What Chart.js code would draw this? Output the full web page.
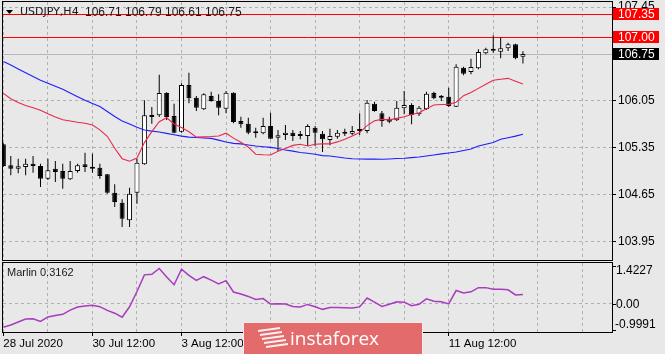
<!DOCTYPE html>
<html>
<head>
<meta charset="utf-8">
<title>USDJPY H4</title>
<script src="https://cdn.jsdelivr.net/npm/chart.js@4.4.1/dist/chart.umd.min.js"></script>
<style>
  html, body { margin: 0; padding: 0; }
  body { width: 665px; height: 354px; background: #e8e8e8; position: relative; overflow: hidden; }
  canvas { position: absolute; left: 0; }
  #priceChart { top: 0; }
  #marlinChart { top: 258px; }
</style>
</head>
<body>
<canvas id="priceChart" width="665" height="262"></canvas>
<canvas id="marlinChart" width="665" height="96"></canvas>
<script>
// H4 bars, 28 Jul - 12 Aug 2020
const opens = [105.405,105.092,105.041,105.067,105.116,105.081,104.892,105.041,105.007,104.883,
  105.007,105.107,105.067,105.056,104.958,104.684,104.535,104.272,104.684,105.107,
  105.837,105.837,106.169,105.826,105.593,106.288,106.099,105.926,106.124,106.05,
  105.935,106.174,105.752,105.712,105.578,105.569,105.677,105.503,105.543,105.578,
  105.539,105.528,105.652,105.563,105.469,105.518,105.563,105.563,105.603,105.603,
  106.01,105.867,105.786,105.762,105.941,105.99,105.852,105.926,106.169,106.11,
  106.114,105.965,106.546,106.482,106.537,106.761,106.805,106.785,106.835,106.895,106.71];
const highs = [105.42,105.23,105.19,105.19,105.23,105.116,105.19,105.156,105.116,105.156,
  105.116,105.28,105.265,105.116,104.962,104.809,104.585,104.758,105.19,106.06,
  105.961,106.442,106.18,106.01,106.314,106.472,106.124,106.165,106.189,106.15,
  106.199,106.18,105.816,105.801,105.652,105.801,105.876,105.618,105.692,105.618,
  105.603,105.703,105.677,105.603,105.637,105.618,105.637,105.677,105.867,106.065,
  106.04,105.901,105.816,106.05,106.199,106.016,105.976,106.189,106.189,106.139,
  106.248,106.597,106.561,106.68,106.82,106.844,107.029,106.993,106.919,106.904,106.79];
const lows = [105.07,104.943,104.973,104.943,104.982,104.769,104.873,104.843,104.743,104.873,
  104.982,104.992,104.982,104.892,104.669,104.471,104.173,104.173,104.52,105.10,
  105.712,105.812,105.767,105.57,105.578,106.016,105.901,105.916,106.04,105.837,
  105.867,105.718,105.652,105.554,105.503,105.554,105.479,105.305,105.469,105.454,
  105.479,105.38,105.38,105.29,105.39,105.488,105.528,105.543,105.543,105.569,
  105.891,105.667,105.718,105.752,105.852,105.703,105.826,105.916,106.075,106.05,
  105.961,105.96,106.433,106.448,106.522,106.746,106.77,106.686,106.795,106.671,106.61];
const closes = [105.081,105.041,105.077,105.116,105.081,104.892,105.017,104.992,104.892,105.007,
  105.092,105.067,105.041,104.932,104.684,104.545,104.296,104.669,105.131,105.837,
  105.812,106.169,105.812,105.578,106.288,106.09,105.95,106.15,106.05,105.95,
  106.174,105.737,105.703,105.578,105.569,105.677,105.488,105.539,105.578,105.528,
  105.528,105.677,105.578,105.479,105.528,105.578,105.59,105.603,105.633,106.025,
  105.901,105.752,105.742,105.95,105.99,105.841,105.95,106.159,106.09,106.099,
  105.976,106.561,106.457,106.557,106.78,106.82,106.80,106.835,106.895,106.686,106.75];

// moving averages (red = fast, blue = slow)
const maFast = [106.163,106.084,106.028,105.983,105.95,105.913,105.858,105.812,105.77,105.752,
  105.733,105.719,105.692,105.619,105.523,105.345,105.19,105.152,105.2,105.43,
  105.593,105.74,105.8,105.707,105.655,105.591,105.511,105.515,105.52,105.529,
  105.57,105.496,105.435,105.362,105.256,105.248,105.245,105.302,105.341,105.388,
  105.405,105.38,105.405,105.41,105.41,105.44,105.479,105.528,105.579,105.683,
  105.755,105.776,105.768,105.791,105.816,105.849,105.874,105.935,105.99,105.998,
  105.999,106.031,106.129,106.175,106.238,106.3,106.358,106.373,106.387,106.345,106.303];
const maSlow = [106.639,106.585,106.527,106.47,106.415,106.36,106.315,106.269,106.223,106.169,
  106.114,106.062,106.014,105.967,105.894,105.819,105.752,105.706,105.66,105.618,
  105.6,105.588,105.567,105.546,105.526,105.511,105.505,105.499,105.493,105.466,
  105.439,105.418,105.411,105.394,105.379,105.368,105.359,105.341,105.32,105.302,
  105.281,105.272,105.257,105.236,105.23,105.216,105.201,105.189,105.186,105.184,
  105.183,105.181,105.186,105.192,105.196,105.205,105.214,105.229,105.245,105.262,
  105.275,105.289,105.312,105.335,105.378,105.405,105.43,105.479,105.502,105.526,105.554];

// Marlin oscillator
const marlin = [-0.833,-0.754,-0.65,-0.546,-0.536,-0.626,-0.47,-0.418,-0.38,-0.231,
  -0.121,-0.09,-0.058,-0.11,-0.242,-0.339,-0.48,-0.114,0.423,1.007,
  1.028,1.232,0.931,0.661,1.205,0.987,0.814,0.942,0.821,0.689,
  0.803,0.405,0.333,0.25,0.143,0.174,-0.02,-0.006,-0.02,-0.103,
  -0.124,-0.031,-0.114,-0.204,-0.138,-0.141,-0.148,-0.155,-0.117,0.194,
  0.049,-0.1,-0.027,0.06,0.049,-0.076,-0.027,0.167,0.084,0.063,
  -0.013,0.457,0.371,0.412,0.558,0.558,0.502,0.499,0.482,0.302,0.3162];

const timeLabels = ['28 Jul 2020', '30 Jul 12:00', '3 Aug 12:00', '5 Aug 12:00', '7 Aug 12:00', '11 Aug 12:00'];
const timeLabelBars = [0, 12, 24, 36, 48, 60];
const priceTicks = [103.95, 104.65, 105.35, 106.05, 106.75, 107.45];
const redLevels = [107.35, 107.00];
const marlinTicks = [1.4227, 0.00, -0.9991];

const FONT = '"Liberation Sans", Arial, sans-serif';
const GRID = '#b0b0b0';
const last = closes.length - 1;
Chart.defaults.font.family = FONT;

const xy = arr => arr.map((v, i) => ({ x: i, y: v }));
const gridSteps = [];
for (let i = 0; i <= 78; i += 6) gridSteps.push(i);

function hLine(ctx, x1, x2, y) {
  ctx.beginPath(); ctx.moveTo(x1, y); ctx.lineTo(x2, y); ctx.stroke();
}

// levels, boxes, frame and title for the price panel
const priceDecor = {
  id: 'priceDecor',
  beforeDatasetsDraw(chart) {
    const { ctx, chartArea: a, scales: { y } } = chart;
    ctx.save();
    ctx.lineWidth = 1;
    ctx.strokeStyle = '#b8b8b8';
    hLine(ctx, a.left, a.right, Math.round(y.getPixelForValue(closes[last])) + 0.5);
    ctx.strokeStyle = '#ff0000';
    redLevels.forEach(v => hLine(ctx, a.left, a.right, Math.round(y.getPixelForValue(v)) + 0.5));
    ctx.restore();
  },
  afterDraw(chart) {
    const { ctx, chartArea: a, scales: { y } } = chart;
    ctx.save();
    ctx.strokeStyle = '#000';
    ctx.lineWidth = 1;
    ctx.strokeRect(a.left - 0.5, a.top - 0.5, a.right - a.left + 1, a.bottom - a.top + 1);

    // price boxes on the right axis
    ctx.font = '12px ' + FONT;
    ctx.textBaseline = 'middle';
    const box = (v, bg) => {
      const py = Math.round(y.getPixelForValue(v));
      ctx.fillStyle = bg;
      ctx.fillRect(a.right + 1, py - 6, 46, 12);
      ctx.fillStyle = '#fff';
      ctx.fillText(v.toFixed(2), a.right + 6, py + 0.5);
    };
    redLevels.forEach(v => box(v, '#ff0000'));
    box(closes[last], '#000');

    // title
    ctx.fillStyle = '#000';
    ctx.beginPath();
    ctx.moveTo(6, 10); ctx.lineTo(13, 10); ctx.lineTo(9.5, 14); ctx.closePath(); ctx.fill();
    ctx.fillStyle = '#1a1a1a';
    ctx.font = '11px "DejaVu Sans", sans-serif';
    ctx.fillText('USDJPY,H4', 20, 12.5);
    ctx.font = '12px ' + FONT;
    [opens[last], highs[last], lows[last], closes[last]].forEach((v, k) => {
      ctx.fillText(v.toFixed(2), 85 + k * 40, 12.5);
    });
    ctx.restore();
  }
};

new Chart(document.getElementById('priceChart'), {
  type: 'bar',
  data: {
    datasets: [
      { type: 'line', data: xy(maFast), borderColor: '#e8284c', borderWidth: 1.1, pointRadius: 0, order: 0 },
      { type: 'line', data: xy(maSlow), borderColor: '#1e1eff', borderWidth: 1.1, pointRadius: 0, order: 0 },
      {
        // candle bodies
        data: opens.map((o, i) => ({ x: i, y: [o, closes[i]] })),
        backgroundColor: opens.map((o, i) => closes[i] >= o ? '#ffffff' : '#000000'),
        borderColor: '#000', borderWidth: 1, borderSkipped: false,
        barThickness: 5, minBarLength: 2, inflateAmount: 0, grouped: false, order: 1
      },
      {
        // wicks
        data: lows.map((l, i) => ({ x: i, y: [l, highs[i]] })),
        backgroundColor: '#000', borderWidth: 0,
        barThickness: 1, inflateAmount: 0, grouped: false, order: 2
      }
    ]
  },
  options: {
    responsive: false,
    animation: false,
    events: [],
    layout: { padding: { left: 3, top: 2, right: 0, bottom: 0 } },
    plugins: { legend: { display: false }, tooltip: { enabled: false } },
    scales: {
      x: {
        type: 'linear', min: -0.05, max: 82, offset: false,
        afterBuildTicks: s => { s.ticks = gridSteps.map(v => ({ value: v })); },
        afterFit: s => { s.height = 2; s.paddingLeft = 0; s.paddingRight = 0; },
        ticks: { display: false },
        grid: { color: GRID, borderDash: [3, 3], drawTicks: false, offset: false },
        border: { display: false, dash: [3, 3] }
      },
      y: {
        position: 'right', min: 103.68, max: 107.525,
        afterBuildTicks: s => { s.ticks = priceTicks.map(v => ({ value: v })); },
        afterFit: s => { s.width = 53; s.paddingTop = 0; s.paddingBottom = 0; },
        ticks: { color: '#000', font: { size: 12 }, padding: 2, callback: v => v.toFixed(2) },
        grid: { color: GRID, borderDash: [3, 3], tickLength: 4, tickColor: '#000', tickBorderDash: [], tickWidth: 1 },
        border: { display: false, dash: [3, 3] }
      }
    }
  },
  plugins: [priceDecor]
});

// frame, labels and watermark for the oscillator panel
const marlinDecor = {
  id: 'marlinDecor',
  afterDraw(chart) {
    const { ctx, chartArea: a, scales: { y } } = chart;
    ctx.save();
    ctx.strokeStyle = '#000';
    ctx.lineWidth = 1;
    ctx.strokeRect(a.left - 0.5, a.top - 0.5, a.right - a.left + 1, a.bottom - a.top + 1);

    ctx.fillStyle = '#1a1a1a';
    ctx.textBaseline = 'middle';
    ctx.font = '11px ' + FONT;
    ctx.fillText('Marlin ' + marlin[last].toFixed(4), 7, 15);

    // right axis labels sit inside the panel like MT4 does
    ctx.font = '12px ' + FONT;
    ctx.fillStyle = '#000';
    const labelY = [13, 47, 67];
    const tickY = [a.top + 3, y.getPixelForValue(0), a.bottom - 2];
    marlinTicks.forEach((v, k) => {
      ctx.fillText(v === 0 ? '0.00' : String(v), v < 0 ? a.right + 3 : a.right + 4, labelY[k]);
      hLine(ctx, a.right, a.right + 4, Math.round(tickY[k]) + 0.5);
    });

    // instaforex watermark
    const wx = 243, wy = 64, ww = 180, wh = 34;
    ctx.fillStyle = '#e36b6b';
    ctx.fillRect(wx, wy, ww, wh);
    ctx.strokeStyle = 'rgba(255,255,255,0.85)';
    ctx.strokeRect(wx + 0.5, wy + 0.5, ww - 1, wh);
    ctx.fillStyle = 'rgba(255,255,255,0.9)';
    for (let k = 0; k < 5; k++) {
      const sy = wy + 8 + k * 4;
      ctx.beginPath();
      ctx.moveTo(258 + k * 2, sy); ctx.lineTo(280 + k * 2, sy - 3);
      ctx.lineTo(280 + k * 2, sy - 1); ctx.lineTo(258 + k * 2, sy + 2);
      ctx.closePath(); ctx.fill();
    }
    ctx.fillStyle = '#fff';
    ctx.font = '19px "Open Sans", sans-serif';
    ctx.textBaseline = 'alphabetic';
    ctx.fillText('instaforex', 290, wy + 23);
    ctx.restore();
  }
};

new Chart(document.getElementById('marlinChart'), {
  type: 'line',
  data: {
    datasets: [
      { data: xy(marlin), borderColor: '#a83cbf', borderWidth: 1.5, pointRadius: 0 }
    ]
  },
  options: {
    responsive: false,
    animation: false,
    events: [],
    layout: { padding: { left: 3, top: 5, right: 0, bottom: 0 } },
    plugins: { legend: { display: false }, tooltip: { enabled: false } },
    scales: {
      x: {
        type: 'linear', min: -0.05, max: 82, offset: false,
        afterBuildTicks: s => { s.ticks = gridSteps.map(v => ({ value: v })); },
        afterFit: s => { s.height = 22; s.paddingLeft = 0; s.paddingRight = 0; },
        ticks: {
          color: '#000', font: { size: 11.5 }, padding: 1, align: 'start',
          autoSkip: false, maxRotation: 0,
          callback: v => { const k = timeLabelBars.indexOf(v); return k < 0 ? '' : timeLabels[k]; }
        },
        grid: {
          color: GRID, borderDash: [3, 3], tickLength: 4, tickBorderDash: [], tickWidth: 1,
          tickColor: c => timeLabelBars.includes(c.tick && c.tick.value) ? '#000' : 'rgba(0,0,0,0)'
        },
        border: { display: false, dash: [3, 3] }
      },
      y: {
        position: 'right', min: marlinTicks[2], max: marlinTicks[0],
        afterBuildTicks: s => { s.ticks = [{ value: 0 }]; },
        afterFit: s => { s.width = 53; s.paddingTop = 0; s.paddingBottom = 0; },
        ticks: { display: false },
        grid: { color: GRID, borderDash: [3, 3], drawTicks: false },
        border: { display: false, dash: [3, 3] }
      }
    }
  },
  plugins: [marlinDecor]
});
</script>
</body>
</html>
